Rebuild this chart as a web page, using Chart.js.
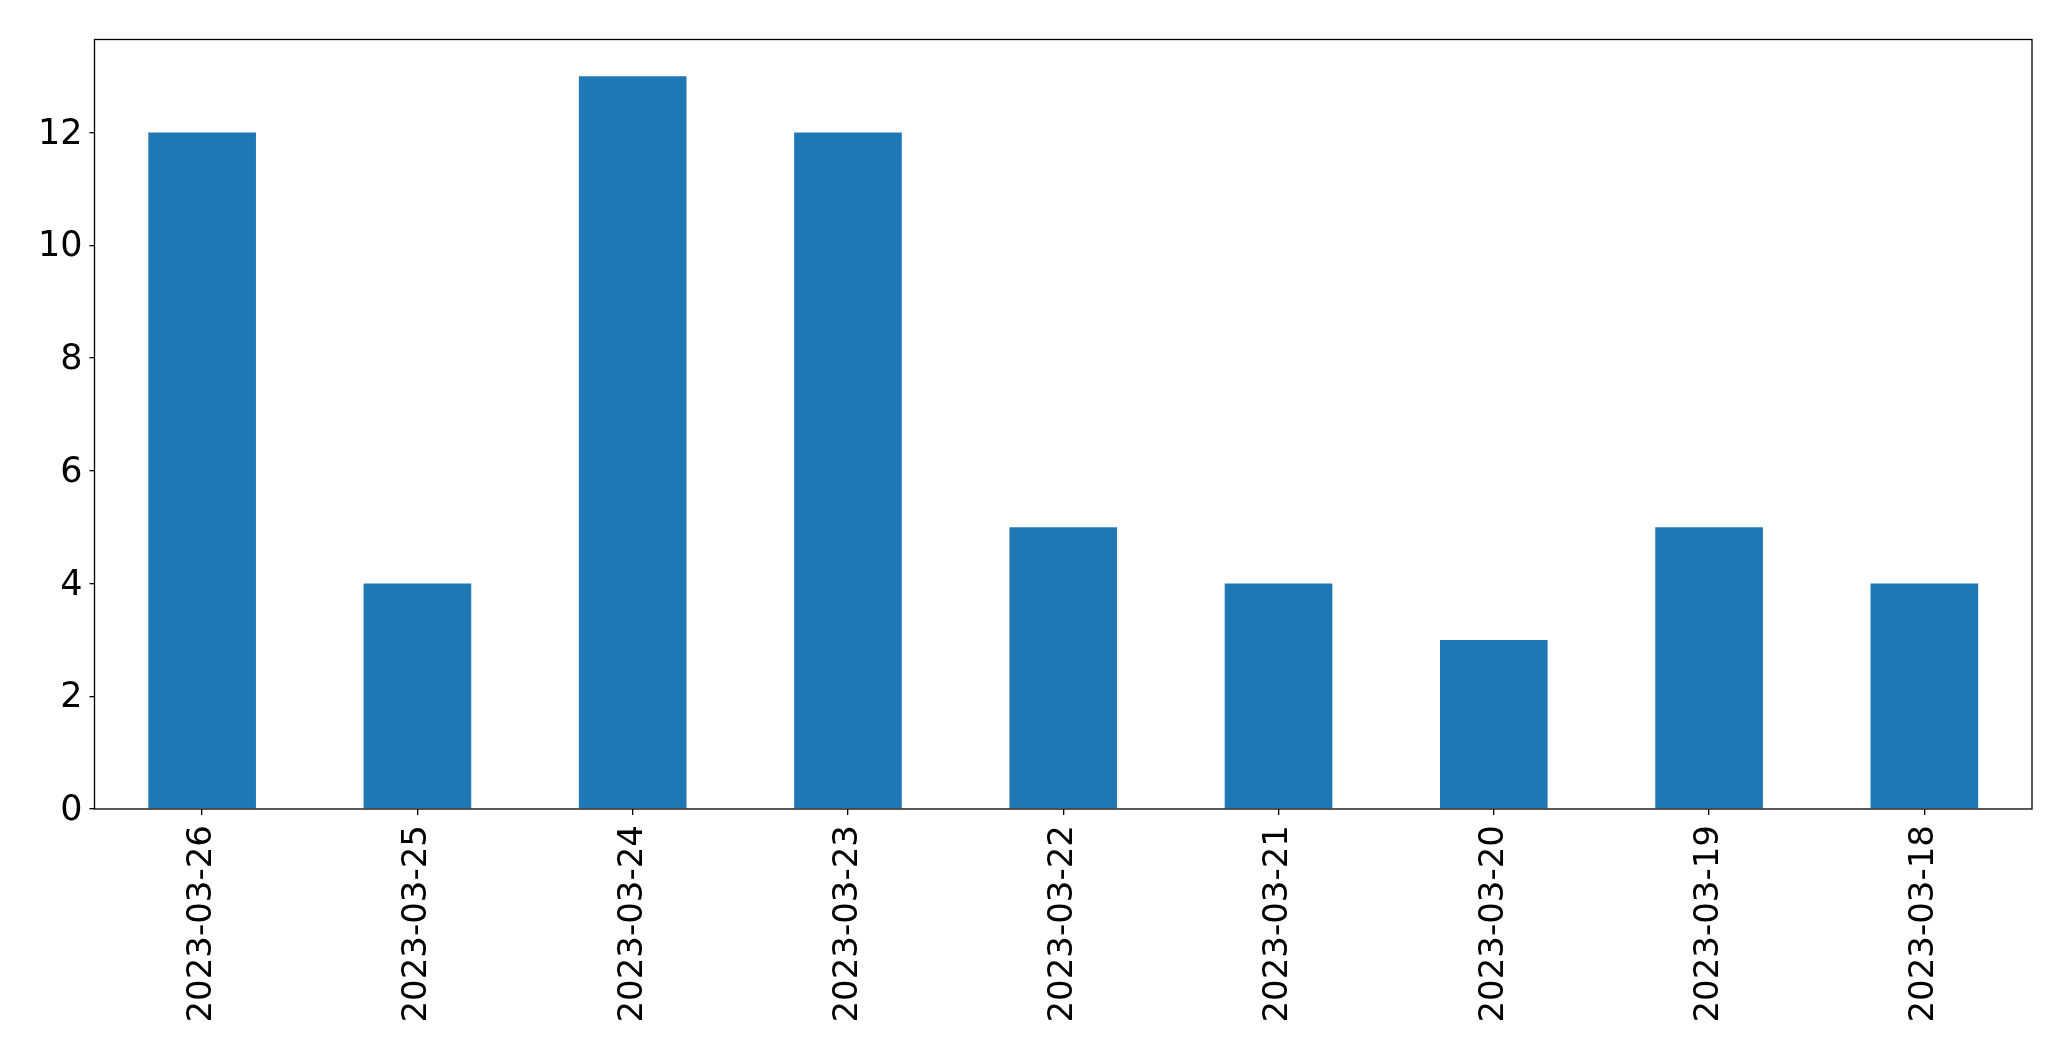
<!DOCTYPE html>
<html lang="en">
<head>
<meta charset="UTF-8" />
<title>Counts by date</title>
<script src="https://cdn.jsdelivr.net/npm/chart.js"></script>
<style>
html, body { margin: 0; padding: 0; background: #fff; }
#wrap { width: 2071px; height: 1061px; position: relative; }
</style>
</head>
<body>
<div id="wrap"><canvas id="chart"></canvas></div>
<script>
const dates = ['2023-03-26', '2023-03-25', '2023-03-24', '2023-03-23', '2023-03-22',
               '2023-03-21', '2023-03-20', '2023-03-19', '2023-03-18'];
const counts = [12, 4, 13, 12, 5, 4, 3, 5, 4];
const yTicks = [0, 2, 4, 6, 8, 10, 12];

// full box around the plot area, like matplotlib's spines
const frame = {
    id: 'frame',
    afterDraw(chart) {
        const { ctx, chartArea: a } = chart;
        ctx.save();
        ctx.strokeStyle = '#000';
        ctx.lineWidth = 1.3;
        ctx.strokeRect(a.left, a.top, a.right - a.left, a.bottom - a.top);
        ctx.restore();
    }
};

new Chart(document.getElementById('chart'), {
    type: 'bar',
    data: {
        labels: dates,
        datasets: [{
            data: counts,
            backgroundColor: '#1f77b4',
            categoryPercentage: 1,
            barPercentage: 0.5
        }]
    },
    options: {
        responsive: true,
        maintainAspectRatio: false,
        animation: false,
        layout: { padding: { left: 0, right: 39, top: 39.5, bottom: 0 } },
        plugins: { legend: { display: false }, tooltip: { enabled: false } },
        scales: {
            x: {
                offset: true,
                grid: { offset: false, drawOnChartArea: false, drawTicks: true, tickLength: 6, tickColor: '#000', lineWidth: 1.3 },
                border: { display: false },
                ticks: {
                    color: '#000', padding: 10, autoSkip: false,
                    maxRotation: 90, minRotation: 90,
                    font: { family: 'DejaVu Sans', size: 34 }
                },
                afterFit(scale) { scale.height = 252; }
            },
            y: {
                min: 0,
                max: 13.65,
                grid: { drawOnChartArea: false, drawTicks: true, tickLength: 5, tickColor: '#000', lineWidth: 1.3 },
                border: { display: false },
                afterBuildTicks(scale) { scale.ticks = yTicks.map(v => ({ value: v })); },
                ticks: {
                    color: '#000', padding: 7, labelOffset: 2,
                    font: { family: 'DejaVu Sans', size: 35 }
                },
                afterFit(scale) { scale.width = 94.5; }
            }
        }
    },
    plugins: [frame]
});
</script>
</body>
</html>
